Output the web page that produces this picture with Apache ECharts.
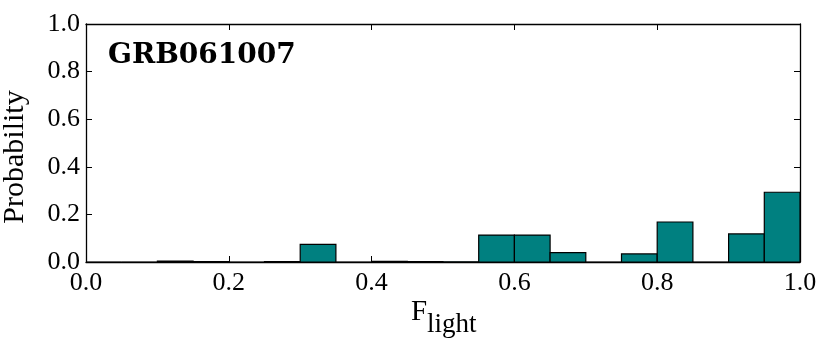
<!DOCTYPE html>
<html>
	<head>
		<meta charset="utf-8">
		<title>GRB061007</title>
		<script src="https://cdn.jsdelivr.net/npm/echarts@6/dist/echarts.min.js"></script>
		<style>
			html, body { margin: 0; padding: 0; background: #fff; }
			#main { width: 830px; height: 350px; }
		</style>
	</head>
	<body>
		<div id="main"></div>
		<script>
			// histogram bins (left edge), width 0.05
			var binLeft = [0.00, 0.05, 0.10, 0.15, 0.20, 0.25, 0.30, 0.35, 0.40, 0.45,
				0.50, 0.55, 0.60, 0.65, 0.70, 0.75, 0.80, 0.85, 0.90, 0.95]
			var binWidth = 0.05
			var probability = [0, 0, 0.004, 0.002, 0, 0.002, 0.074, 0, 0.003, 0.002,
				0.001, 0.113, 0.113, 0.039, 0, 0.034, 0.168, 0, 0.118, 0.293]
			var title = 'GRB061007'

			var serif = '"Liberation Serif", "DejaVu Serif", serif'
			var bins = []
			for (var i = 0; i < binLeft.length; i++) {
				bins.push([binLeft[i], binLeft[i] + binWidth, probability[i]])
			}

			function axis(pos, showLabel, margin) {
				return {
					type: 'value', position: pos, min: 0, max: 1, interval: 0.2,
					splitLine: { show: false },
					axisLine: { show: true, onZero: false, lineStyle: { color: '#000', width: 1.3 } },
					axisTick: { show: true, inside: true, length: 6, lineStyle: { color: '#000', width: 1 } },
					axisLabel: {
						show: showLabel, margin: margin, color: '#000', fontFamily: serif, fontSize: 26,
						formatter: function (v) { return v.toFixed(1) }
					}
				}
			}

			var myChart = echarts.init(document.getElementById('main'))
			var option = {
				animation: false,
				backgroundColor: '#fff',
				grid: { left: 86, right: 30, top: 24, bottom: 88 },
				xAxis: [axis('bottom', true, 8), axis('top', false, 8)],
				yAxis: [axis('left', true, 6), axis('right', false, 6)],
				graphic: [
					{
						type: 'text', left: 108, top: 42,
						style: { text: title, fill: '#000', font: 'bold 28px "DejaVu Serif", serif' }
					},
					{
						type: 'text', x: 0, y: 157, rotation: Math.PI / 2,
						style: {
							text: 'Probability', fill: '#000', font: '30px ' + serif,
							align: 'center', verticalAlign: 'top'
						}
					},
					{
						type: 'text', x: 411, y: 298,
						style: { text: 'F', fill: '#000', font: '29px ' + serif, align: 'left', verticalAlign: 'top' }
					},
					{
						type: 'text', x: 427, y: 311,
						style: { text: 'light', fill: '#000', font: '27px ' + serif, align: 'left', verticalAlign: 'top' }
					}
				],
				series: [{
					type: 'custom',
					xAxisIndex: 0,
					yAxisIndex: 0,
					clip: true,
					data: bins,
					renderItem: function (params, api) {
						var p0 = api.coord([api.value(0), api.value(2)])
						var p1 = api.coord([api.value(1), 0])
						return {
							type: 'rect',
							shape: { x: p0[0], y: p0[1], width: p1[0] - p0[0], height: p1[1] - p0[1] },
							style: { fill: '#008080', stroke: '#000', lineWidth: 1.2 }
						}
					}
				}]
			}
			myChart.setOption(option)
		</script>
	</body>
</html>
